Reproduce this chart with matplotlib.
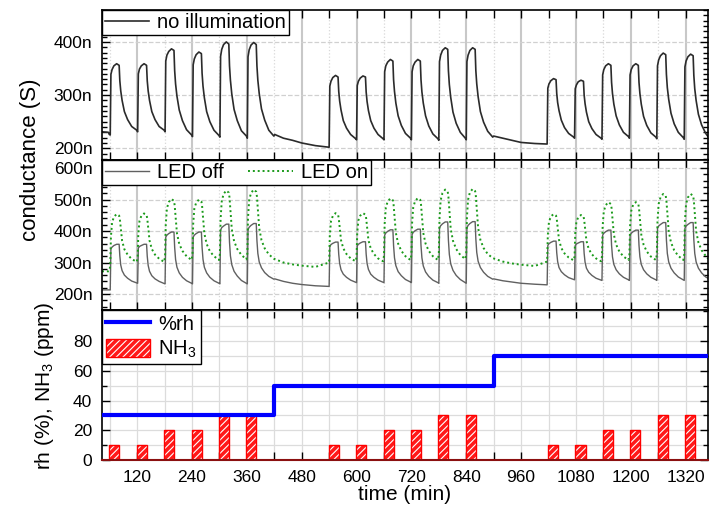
import matplotlib
matplotlib.use("Agg")
import matplotlib.pyplot as plt
from matplotlib.ticker import MultipleLocator, FixedLocator, FuncFormatter
from matplotlib.patches import Patch

# time axis shared by the three conductance traces (min)
time_min = [
    43, 57, 59,
    61, 62.5, 65, 69, 75, 80.5, 82, 84, 87, 92, 99, 108, 119,
    121, 122.5, 125, 129, 135, 140.5, 142, 144, 147, 152, 159, 168, 179,
    181, 182.5, 185, 189, 195, 200.5, 202, 204, 207, 212, 219, 228, 239,
    241, 242.5, 245, 249, 255, 260.5, 262, 264, 267, 272, 279, 288, 299,
    301, 302.5, 305, 309, 315, 320.5, 322, 324, 327, 332, 339, 348, 359,
    361, 362.5, 365, 369, 375, 380.5, 382, 384, 387, 392, 399, 408, 419,
    421, 440, 460, 480, 510,
    540, 541.5, 544, 548, 554, 559.5, 561, 563, 566, 571, 578, 587, 598,
    600, 601.5, 604, 608, 614, 619.5, 621, 623, 626, 631, 638, 647, 658,
    660, 661.5, 664, 668, 674, 679.5, 681, 683, 686, 691, 698, 707, 718,
    720, 721.5, 724, 728, 734, 739.5, 741, 743, 746, 751, 758, 767, 778,
    780, 781.5, 784, 788, 794, 799.5, 801, 803, 806, 811, 818, 827, 838,
    840, 841.5, 844, 848, 854, 859.5, 861, 863, 866, 871, 878, 887, 898,
    900, 920, 940, 960, 990,
    1017, 1018.5, 1021, 1025, 1031, 1036.5, 1038, 1040, 1043, 1048, 1055, 1064, 1075,
    1077, 1078.5, 1081, 1085, 1091, 1096.5, 1098, 1100, 1103, 1108, 1115, 1124, 1135,
    1137, 1138.5, 1141, 1145, 1151, 1156.5, 1158, 1160, 1163, 1168, 1175, 1184, 1195,
    1197, 1198.5, 1201, 1205, 1211, 1216.5, 1218, 1220, 1223, 1228, 1235, 1244, 1255,
    1257, 1258.5, 1261, 1265, 1271, 1276.5, 1278, 1280, 1283, 1288, 1295, 1304, 1315,
    1317, 1318.5, 1321, 1325, 1331, 1336.5, 1338, 1340, 1343, 1348, 1355, 1364, 1369,
]

# conductance without illumination (nS)
g_dark = [
    231, 230, 226,
    225, 339, 348, 355, 359, 356, 327, 308, 290, 269, 254, 241, 234,
    231, 340, 349, 355, 359, 356, 327, 308, 290, 269, 254, 241, 234,
    231, 364, 375, 382, 387, 384, 346, 321, 298, 272, 252, 235, 225,
    222, 357, 368, 376, 381, 378, 341, 317, 295, 269, 250, 234, 224,
    221, 373, 386, 395, 400, 396, 355, 328, 302, 273, 252, 233, 223,
    219, 372, 385, 394, 399, 395, 355, 328, 303, 274, 253, 234, 223,
    226, 219, 215, 210, 205,
    202, 317, 326, 333, 337, 334, 307, 289, 272, 252, 238, 226, 218,
    216, 318, 326, 332, 336, 334, 306, 288, 271, 252, 238, 226, 218,
    216, 344, 355, 362, 367, 364, 329, 307, 285, 261, 243, 228, 219,
    216, 344, 355, 362, 367, 364, 329, 306, 285, 261, 242, 227, 218,
    215, 363, 375, 384, 389, 386, 346, 320, 296, 268, 247, 230, 219,
    216, 363, 375, 384, 389, 386, 346, 321, 297, 269, 249, 232, 221,
    223, 219, 215, 211, 209,
    208, 313, 321, 327, 331, 329, 303, 286, 271, 253, 239, 228, 221,
    219, 312, 319, 325, 328, 326, 300, 284, 268, 250, 237, 226, 219,
    217, 338, 348, 355, 359, 356, 324, 303, 283, 261, 244, 230, 222,
    219, 338, 348, 355, 359, 356, 324, 303, 283, 260, 243, 229, 221,
    218, 355, 366, 374, 379, 376, 339, 314, 292, 266, 246, 230, 220,
    217, 353, 364, 372, 377, 374, 337, 312, 290, 264, 244, 228, 222,
]

# conductance, LED off (nS)
g_off = [
    213, 213, 213,
    213, 344, 349, 354, 358, 358, 321, 292, 274, 260, 250, 241, 235,
    234, 346, 351, 354, 358, 358, 320, 291, 272, 258, 248, 240, 233,
    232, 381, 387, 392, 397, 397, 348, 310, 285, 267, 253, 242, 234,
    232, 381, 387, 392, 397, 397, 348, 310, 285, 267, 253, 242, 234,
    232, 403, 411, 416, 422, 422, 365, 321, 293, 272, 257, 243, 234,
    232, 405, 412, 418, 424, 424, 370, 329, 302, 283, 268, 256, 247,
    248, 240, 234, 230, 226,
    224, 351, 357, 361, 365, 365, 326, 297, 277, 263, 253, 244, 237,
    236, 353, 358, 362, 366, 366, 327, 297, 278, 263, 253, 244, 237,
    236, 387, 394, 399, 404, 404, 354, 315, 290, 271, 258, 246, 238,
    236, 389, 396, 401, 406, 406, 354, 315, 289, 270, 256, 244, 236,
    234, 410, 417, 423, 429, 429, 371, 326, 296, 275, 259, 246, 236,
    234, 410, 418, 424, 430, 430, 375, 332, 304, 284, 269, 256, 247,
    248, 242, 238, 234, 231,
    229, 354, 360, 364, 368, 368, 331, 303, 284, 271, 261, 252, 246,
    245, 354, 359, 362, 366, 366, 329, 301, 282, 269, 259, 250, 244,
    243, 387, 393, 398, 403, 403, 355, 318, 294, 277, 264, 253, 245,
    243, 387, 393, 398, 403, 403, 355, 318, 294, 277, 264, 253, 245,
    243, 409, 416, 421, 427, 427, 372, 329, 302, 282, 267, 254, 245,
    243, 409, 416, 421, 427, 427, 372, 329, 302, 282, 267, 254, 250,
]

# conductance, LED on (nS)
g_on = [
    272, 272, 273,
    290, 381, 427, 445, 454, 449, 439, 411, 369, 342, 325, 311, 302,
    315, 393, 432, 448, 456, 451, 440, 412, 370, 343, 325, 312, 302,
    319, 421, 472, 492, 502, 496, 482, 447, 393, 359, 337, 320, 308,
    324, 422, 471, 490, 500, 494, 480, 445, 392, 359, 336, 320, 308,
    327, 439, 495, 518, 529, 522, 507, 467, 406, 368, 343, 324, 310,
    329, 442, 498, 521, 532, 525, 510, 469, 409, 371, 345, 326, 312,
    311, 300, 294, 290, 286,
    300, 387, 431, 448, 457, 452, 441, 413, 371, 345, 327, 313, 304,
    317, 395, 434, 449, 457, 452, 441, 413, 371, 345, 327, 313, 304,
    321, 423, 474, 494, 504, 498, 484, 448, 394, 360, 337, 320, 308,
    324, 425, 475, 495, 505, 499, 485, 449, 394, 360, 337, 320, 308,
    327, 441, 498, 521, 532, 525, 509, 469, 408, 369, 343, 324, 311,
    329, 443, 500, 523, 534, 527, 512, 471, 410, 372, 346, 327, 314,
    313, 303, 297, 293, 289,
    303, 387, 429, 446, 454, 449, 439, 412, 372, 346, 329, 316, 307,
    319, 392, 429, 444, 451, 447, 436, 409, 369, 343, 326, 313, 304,
    320, 416, 463, 482, 492, 486, 473, 439, 389, 357, 335, 319, 308,
    323, 417, 464, 483, 492, 486, 473, 439, 389, 357, 335, 319, 308,
    325, 432, 486, 507, 518, 512, 497, 458, 400, 364, 339, 321, 308,
    325, 432, 486, 507, 518, 512, 497, 458, 400, 364, 339, 321, 312,
]

# humidity steps and NH3 pulses
rh_time = [43, 420, 900, 1369]
rh_pct = [30, 50, 70, 70]
nh3_time = [70, 130, 190, 250, 310, 370,
            550, 610, 670, 730, 790, 850,
            1030, 1090, 1150, 1210, 1270, 1330]
nh3_ppm = [10, 10, 20, 20, 30, 30,
           10, 10, 20, 20, 30, 30,
           10, 10, 20, 20, 30, 30]

plt.rcParams['font.family'] = ['Liberation Sans', 'DejaVu Sans']
plt.rcParams['mathtext.default'] = 'regular'
plt.rcParams['hatch.linewidth'] = 0.8

fig = plt.figure(figsize=(7.1, 5.07), dpi=100)
L, W, H = 102/710, 606/710, 150/507
ax1 = fig.add_axes([L, 1-160/507, W, H])
ax2 = fig.add_axes([L, 1-310/507, W, H])
ax3 = fig.add_axes([L, 1-460/507, W, H])

nano = FuncFormatter(lambda v, p: '%dn' % round(v))

for ax in (ax1, ax2, ax3):
    ax.set_xlim(43, 1369)
    ax.xaxis.set_major_locator(MultipleLocator(120))
    ax.xaxis.set_minor_locator(MultipleLocator(60))
    ax.tick_params(which='both', direction='in', top=True, right=True,
                   labelsize=12.5, width=1, pad=7)
    ax.tick_params(which='major', length=6)
    ax.tick_params(axis='y', which='minor', length=3.5)
    ax.tick_params(axis='x', which='minor', length=6)
    ax.set_axisbelow(True)
    for s in ax.spines.values():
        s.set_linewidth(1.2)

for ax in (ax1, ax2):
    ax.tick_params(labelbottom=False)
    ax.grid(which='major', axis='x', color='#c8c8c8', lw=1.5, ls='-')
    ax.grid(which='minor', axis='x', color='#d8d8d8', lw=0.9, ls=':')
    ax.grid(which='major', axis='y', color='#d0d0d0', lw=0.9, ls='--')
    ax.yaxis.set_major_locator(MultipleLocator(100))
    ax.yaxis.set_major_formatter(nano)

# top: no illumination
ax1.plot(time_min, g_dark, color='#2b2b2b', lw=1.2, label='no illumination')
ax1.set_ylim(178, 460)
ax1.yaxis.set_minor_locator(MultipleLocator(10))
leg = ax1.legend(loc='upper left', fontsize=14.5, fancybox=False, edgecolor='black',
                 framealpha=1, borderaxespad=0, borderpad=0.15, handlelength=2.2,
                 handletextpad=0.4)
leg.get_frame().set_linewidth(1.0)

# middle: LED off / on
ax2.plot(time_min, g_off, color='#606060', lw=1.0, label='LED off')
ax2.plot(time_min, g_on, color='#1a9a1a', lw=1.4, ls=(0, (1, 1.5)), label='LED on')
ax2.set_ylim(149, 626)
ax2.yaxis.set_minor_locator(MultipleLocator(20))
leg = ax2.legend(loc='upper left', ncol=2, fontsize=14.5, fancybox=False,
                 edgecolor='black', framealpha=1, borderaxespad=0, borderpad=0.15,
                 handlelength=2.2, handletextpad=0.4, columnspacing=1.2)
leg.get_frame().set_linewidth(1.0)

# bottom: humidity and ammonia
ax3.grid(which='both', color='#dcdcdc', lw=0.9, ls='-')
ax3.bar(nh3_time, nh3_ppm, width=22, color='#ff1a1a', edgecolor='white',
        hatch='/////', lw=0, zorder=2)
ax3.bar(nh3_time, nh3_ppm, width=22, fill=False, edgecolor='#ff0000', lw=1, zorder=2)
line_rh, = ax3.plot(rh_time, rh_pct, drawstyle='steps-post', color='#0000ff',
                    lw=3, zorder=3)
ax3.axhline(0, color='#8b1010', lw=1.5, zorder=4, clip_on=False)
ax3.set_ylim(0, 101)
ax3.yaxis.set_major_locator(FixedLocator([0, 20, 40, 60, 80]))
ax3.yaxis.set_minor_locator(MultipleLocator(10))
nh3_handle = (Patch(facecolor='#ff1a1a', edgecolor='white', hatch='/////', lw=0),
              Patch(fill=False, edgecolor='#ff0000', lw=1))
leg = ax3.legend([line_rh, nh3_handle], ['%rh', 'NH$_3$'], loc='upper left',
                 fontsize=14.5, fancybox=False, edgecolor='black', framealpha=1,
                 borderaxespad=0, borderpad=0.2, labelspacing=0.25,
                 handlelength=2.2, handleheight=1.0, handletextpad=0.4)
leg.get_frame().set_linewidth(1.0)

fig.text(31/710, 1-160/507, 'conductance (S)', rotation=90, ha='center',
         va='center', fontsize=16)
fig.text(45/710, 1-386/507, 'rh (%), NH$_3$ (ppm)', rotation=90, ha='center',
         va='center', fontsize=15)
fig.text(405/710, 1-495/507, 'time (min)', ha='center', va='center', fontsize=15)

fig.savefig('out.png', dpi=100)
